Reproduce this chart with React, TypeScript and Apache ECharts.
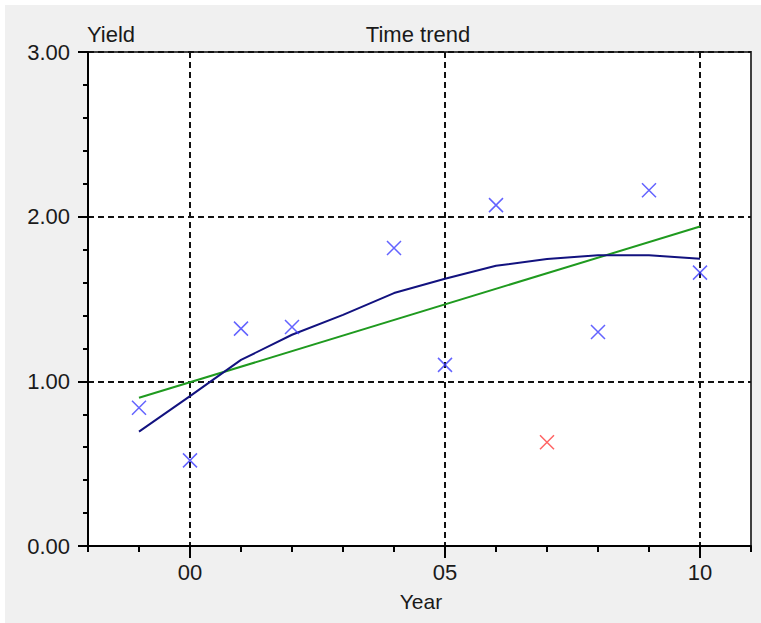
import React, { useEffect, useRef } from 'react';
import * as echarts from 'echarts';

const years = [-1, 0, 1, 2, 4, 5, 6, 8, 9, 10];
const yields = [0.84, 0.52, 1.32, 1.33, 1.81, 1.10, 2.07, 1.30, 2.16, 1.66];
const outlierYears = [7];
const outlierYields = [0.63];
const linearYears = [-1, 10];
const linearTrend = [0.90, 1.94];
const curveYears = [-1, 0, 1, 2, 3, 4, 5, 6, 7, 8, 9, 10];
const curveTrend = [0.695, 0.91, 1.13, 1.283, 1.404, 1.536, 1.623, 1.702, 1.743, 1.765, 1.765, 1.745];
const xLabelValues = [0, 5, 10];
const xLabelTexts = ['00', '05', '10'];
const yAxisTitle = 'Yield';
const chartTitle = 'Time trend';
const xAxisTitle = 'Year';

const FONT = 'Liberation Sans';
const TEXT = '#1a1a1a';
const CROSS = 'path://M0,0L10,10M10,0L0,10';

export default function App() {
  const ref = useRef<HTMLDivElement>(null);
  useEffect(() => {
    if (!ref.current) return;
    const chart = echarts.init(ref.current, null, { renderer: 'svg' });
    const pair = (xs: number[], ys: number[]) => xs.map((x, i) => [x, ys[i]]);
    chart.setOption({
      animation: false,
      backgroundColor: 'transparent',
      textStyle: { fontFamily: FONT },
      grid: {
        left: 88, top: 52, right: 10, bottom: 77,
        show: true, backgroundColor: '#ffffff', borderColor: '#404040', borderWidth: 2,
      },
      graphic: [
        { type: 'text', left: 87, top: 23, style: { text: yAxisTitle, font: `22px "${FONT}"`, fill: TEXT } },
        { type: 'text', x: 418, y: 23, style: { text: chartTitle, font: `22px "${FONT}"`, fill: TEXT, textAlign: 'center' } },
        { type: 'text', x: 421, y: 591, style: { text: xAxisTitle, font: `21px "${FONT}"`, fill: TEXT, textAlign: 'center' } },
      ],
      xAxis: [
        {
          type: 'value', min: -2, max: 11, interval: 1, position: 'bottom',
          axisLine: { show: true, onZero: false, lineStyle: { color: '#000', width: 2 } },
          axisTick: { show: true, length: 6, lineStyle: { color: '#000', width: 2 } },
          axisLabel: { show: false },
          splitLine: { show: false },
        },
        {
          type: 'value', min: -2, max: 11, position: 'bottom', offset: 0,
          axisLine: { show: false, onZero: false },
          axisTick: { show: true, length: 12, customValues: xLabelValues, lineStyle: { color: '#000', width: 2 } },
          axisLabel: {
            show: true, customValues: xLabelValues, margin: 15,
            fontSize: 22, fontFamily: FONT, color: TEXT,
            formatter: (v: number) => xLabelTexts[xLabelValues.indexOf(v)] ?? '',
          },
          splitLine: { show: true, lineStyle: { color: '#111', width: 2, type: [6, 4] } },
        },
      ],
      yAxis: {
        type: 'value', min: 0, max: 3, interval: 1,
        axisLine: { show: true, onZero: false, lineStyle: { color: '#000', width: 2 } },
        axisTick: { show: true, length: 10, lineStyle: { color: '#000', width: 2 } },
        minorTick: { show: true, splitNumber: 5, length: 5, lineStyle: { color: '#000', width: 2 } },
        axisLabel: {
          margin: 18, fontSize: 22, fontFamily: FONT, color: TEXT,
          formatter: (v: number) => v.toFixed(2),
        },
        splitLine: { show: true, lineStyle: { color: '#111', width: 2, type: [6, 4] } },
      },
      series: [
        {
          type: 'line', name: 'Linear trend', data: pair(linearYears, linearTrend),
          showSymbol: false, symbol: 'none', z: 3,
          lineStyle: { color: '#1f9a1f', width: 2 },
        },
        {
          type: 'line', name: 'Quadratic trend', data: pair(curveYears, curveTrend),
          showSymbol: false, symbol: 'none', z: 3,
          lineStyle: { color: '#12127f', width: 2 },
        },
        {
          type: 'scatter', name: 'Yield', data: pair(years, yields),
          symbol: CROSS, symbolSize: 14, z: 4,
          itemStyle: { color: 'transparent', borderColor: '#3c3cff', borderWidth: 1.5 },
        },
        {
          type: 'scatter', name: 'Excluded', data: pair(outlierYears, outlierYields),
          symbol: CROSS, symbolSize: 14, z: 4,
          itemStyle: { color: 'transparent', borderColor: '#ff3c3c', borderWidth: 1.5 },
        },
      ],
    });
    return () => chart.dispose();
  }, []);
  return (
    <div style={{ position: 'fixed', left: 0, top: 0, width: 761, height: 623, background: '#ffffff' }}>
      <div style={{ position: 'absolute', left: 5, top: 5, width: 756, height: 618, background: '#f0f0f0' }} />
      <div ref={ref} style={{ position: 'absolute', left: 0, top: 0, width: 761, height: 623 }} />
    </div>
  );
}
